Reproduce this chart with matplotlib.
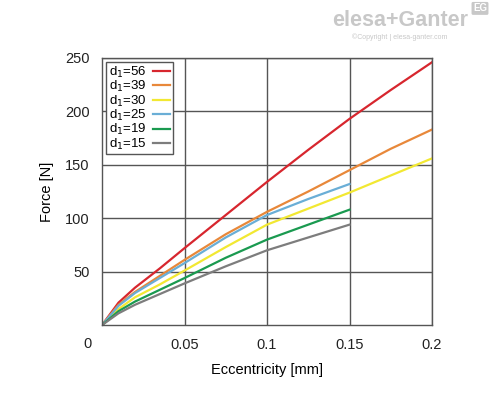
import matplotlib
matplotlib.use("Agg")
from matplotlib import pyplot as plt

plt.rcParams['font.family'] = ['Liberation Sans', 'DejaVu Sans']

x_long = [0, 0.01, 0.02, 0.035, 0.05, 0.075, 0.1, 0.125, 0.15, 0.175, 0.2]
x_short = [0, 0.01, 0.02, 0.035, 0.05, 0.075, 0.1, 0.125, 0.15]

f56 = [0, 21, 35, 53, 72, 103, 134, 164, 193, 220, 246]
f39 = [0, 19, 31, 46, 61, 85, 106, 125, 145, 165, 183]
f30 = [0, 15, 26, 38, 51, 73, 94, 109, 124, 140, 156]
f25 = [0, 18, 30, 44, 58, 82, 103, 118, 132]
f19 = [0, 13, 22, 33, 44, 63, 80, 94, 108]
f15 = [0, 11, 19, 29, 39, 55, 70, 82, 94]

labels = ['56', '39', '30', '25', '19', '15']
colors = ['#d7262e', '#e8883a', '#f2e832', '#6aaed6', '#1a9a50', '#7d7d7d']

fig = plt.figure(figsize=(5, 4.2), dpi=100)
ax = fig.add_axes([0.204, 0.226, 0.66, 0.636])

series = [(x_long, f56), (x_long, f39), (x_long, f30),
          (x_short, f25), (x_short, f19), (x_short, f15)]
for (xs, ys), lab, c in zip(series, labels, colors):
    ax.plot(xs, ys, color=c, lw=1.6, label='d$_1$=' + lab)

ax.set_xlim(0, 0.2)
ax.set_ylim(0, 250)
ax.set_xticks([0.05, 0.1, 0.15, 0.2])
ax.set_xticklabels(['0.05', '0.1', '0.15', '0.2'])
ax.set_yticks([50, 100, 150, 200, 250])
ax.tick_params(length=0, labelsize=10.5, colors='#222222', pad=9)
ax.grid(True, color='#555555', lw=1)
ax.set_axisbelow(True)
for s in ax.spines.values():
    s.set_color('#555555')
    s.set_linewidth(1)
ax.text(-0.045, -0.045, '0', transform=ax.transAxes, fontsize=10.5,
        ha='center', va='top', color='#222222')

ax.set_xlabel('Eccentricity [mm]', fontsize=10.5, labelpad=8)
ax.set_ylabel('Force [N]', fontsize=10.5, labelpad=8)

leg = ax.legend(loc='upper left', markerfirst=False, fontsize=9.5,
                fancybox=False, framealpha=1, edgecolor='#555555',
                handlelength=1.3, handletextpad=0.5, labelspacing=-0.05,
                borderpad=0.2, borderaxespad=0.3)
leg.get_frame().set_linewidth(1)

# watermark
fig.text(0.8, 0.95, 'elesa+Ganter', fontsize=15.5, fontweight='bold',
         color='#c8c8c8', ha='center', va='center')
fig.text(0.8, 0.912, '©Copyright | elesa-ganter.com', fontsize=5,
         color='#c8c8c8', ha='center', va='center')
fig.text(0.96, 0.98, 'EG', fontsize=7, fontweight='bold', color='white',
         ha='center', va='center',
         bbox=dict(boxstyle='round,pad=0.15', fc='#c8c8c8', ec='none'))

fig.savefig('out.png', dpi=100)
